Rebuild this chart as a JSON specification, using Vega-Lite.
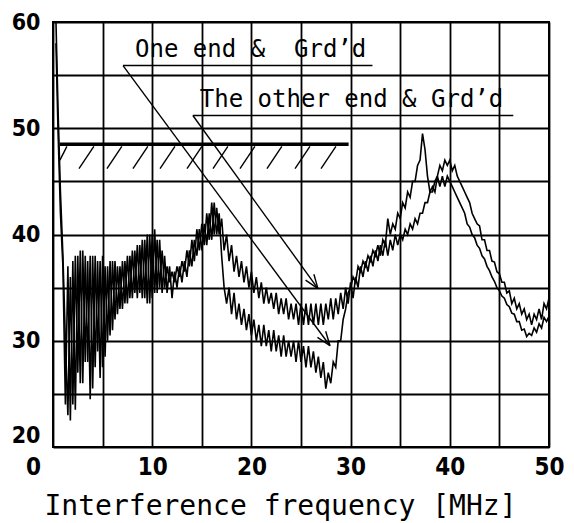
{
  "$schema": "https://vega.github.io/schema/vega-lite/v6.json",
  "width": 496,
  "height": 425,
  "autosize": "none",
  "padding": {"left": 53, "top": 22, "right": 25, "bottom": 76},
  "background": "white",
  "config": {"view": {"stroke": "black", "strokeWidth": 2}},
  "datasets": {
    "traces": [
      {"s":"A","x":0.3,"y":60},{"s":"A","x":0.5,"y":52},{"s":"A","x":0.75,"y":44},{"s":"A","x":1.0,"y":38},{"s":"A","x":1.25,"y":30},{"s":"A","x":1.5,"y":23},{"s":"A","x":1.75,"y":36},{"s":"A","x":2.0,"y":24},{"s":"A","x":2.25,"y":38},{"s":"A","x":2.5,"y":27},{"s":"A","x":2.75,"y":38.5},{"s":"A","x":3.0,"y":26},{"s":"A","x":3.25,"y":38},{"s":"A","x":3.5,"y":28},{"s":"A","x":3.75,"y":38},{"s":"A","x":4.0,"y":25.5},{"s":"A","x":4.25,"y":38},{"s":"A","x":4.5,"y":29},{"s":"A","x":4.75,"y":37.5},{"s":"A","x":5.0,"y":27.5},{"s":"A","x":5.25,"y":37},{"s":"A","x":5.5,"y":30},{"s":"A","x":5.75,"y":37.5},{"s":"A","x":6.0,"y":31},{"s":"A","x":6.25,"y":37.5},{"s":"A","x":6.5,"y":32.5},{"s":"A","x":6.75,"y":37},{"s":"A","x":7.0,"y":33},{"s":"A","x":7.25,"y":37.5},{"s":"A","x":7.5,"y":33.5},{"s":"A","x":7.75,"y":38},{"s":"A","x":8.0,"y":34},{"s":"A","x":8.25,"y":38.5},{"s":"A","x":8.5,"y":34},{"s":"A","x":8.75,"y":39},{"s":"A","x":9.0,"y":34},{"s":"A","x":9.25,"y":39.5},{"s":"A","x":9.5,"y":33.5},{"s":"A","x":9.75,"y":40},{"s":"A","x":10.0,"y":34},{"s":"A","x":10.25,"y":40.5},{"s":"A","x":10.5,"y":34.5},{"s":"A","x":10.75,"y":39.5},{"s":"A","x":11.0,"y":34.5},{"s":"A","x":11.25,"y":38},{"s":"A","x":11.5,"y":34.5},{"s":"A","x":11.75,"y":37},{"s":"A","x":12.0,"y":34},{"s":"A","x":12.25,"y":36.5},{"s":"A","x":12.5,"y":35},{"s":"A","x":12.75,"y":37},{"s":"A","x":13.0,"y":35.5},{"s":"A","x":13.25,"y":37.5},{"s":"A","x":13.5,"y":36},{"s":"A","x":13.75,"y":38.5},{"s":"A","x":14.0,"y":37},{"s":"A","x":14.25,"y":39.5},{"s":"A","x":14.5,"y":38},{"s":"A","x":14.75,"y":40.5},{"s":"A","x":15.0,"y":38.5},{"s":"A","x":15.25,"y":41},{"s":"A","x":15.5,"y":39},{"s":"A","x":15.75,"y":42},{"s":"A","x":16.0,"y":39.5},{"s":"A","x":16.25,"y":43},{"s":"A","x":16.5,"y":40},{"s":"A","x":16.75,"y":42},{"s":"A","x":17.0,"y":38},{"s":"A","x":17.25,"y":35},{"s":"A","x":17.5,"y":33.5},{"s":"A","x":17.75,"y":35},{"s":"A","x":18.0,"y":32.5},{"s":"A","x":18.25,"y":34.5},{"s":"A","x":18.5,"y":32},{"s":"A","x":18.75,"y":33.5},{"s":"A","x":19.0,"y":31.5},{"s":"A","x":19.25,"y":33},{"s":"A","x":19.5,"y":31},{"s":"A","x":19.75,"y":32.5},{"s":"A","x":20.0,"y":30.5},{"s":"A","x":20.25,"y":32},{"s":"A","x":20.5,"y":30},{"s":"A","x":20.75,"y":31.5},{"s":"A","x":21.0,"y":29.5},{"s":"A","x":21.25,"y":31.5},{"s":"A","x":21.5,"y":29.5},{"s":"A","x":21.75,"y":31},{"s":"A","x":22.0,"y":29},{"s":"A","x":22.25,"y":31},{"s":"A","x":22.5,"y":29},{"s":"A","x":22.75,"y":30.5},{"s":"A","x":23.0,"y":28.5},{"s":"A","x":23.25,"y":30.5},{"s":"A","x":23.5,"y":28.5},{"s":"A","x":23.75,"y":30},{"s":"A","x":24.0,"y":28.5},{"s":"A","x":24.25,"y":30},{"s":"A","x":24.5,"y":28},{"s":"A","x":24.75,"y":30},{"s":"A","x":25.0,"y":28},{"s":"A","x":25.25,"y":29.5},{"s":"A","x":25.5,"y":27.5},{"s":"A","x":25.75,"y":29.5},{"s":"A","x":26.0,"y":27.5},{"s":"A","x":26.25,"y":29},{"s":"A","x":26.5,"y":27},{"s":"A","x":26.75,"y":28.5},{"s":"A","x":27.0,"y":26.5},{"s":"A","x":27.25,"y":28},{"s":"A","x":27.5,"y":25.5},{"s":"A","x":27.75,"y":27},{"s":"A","x":28.0,"y":26},{"s":"A","x":28.25,"y":28},{"s":"A","x":28.5,"y":27.5},{"s":"A","x":28.75,"y":30},{"s":"A","x":29.0,"y":30},{"s":"A","x":29.25,"y":32},{"s":"A","x":29.5,"y":33},{"s":"A","x":29.75,"y":34.5},{"s":"A","x":30.0,"y":35},{"s":"A","x":30.25,"y":36},{"s":"A","x":30.5,"y":35.5},{"s":"A","x":30.75,"y":37},{"s":"A","x":31.0,"y":36.5},{"s":"A","x":31.25,"y":37.5},{"s":"A","x":31.5,"y":37},{"s":"A","x":31.75,"y":38},{"s":"A","x":32.0,"y":37.5},{"s":"A","x":32.25,"y":38.5},{"s":"A","x":32.5,"y":38},{"s":"A","x":32.75,"y":39},{"s":"A","x":33.0,"y":38},{"s":"A","x":33.25,"y":39.5},{"s":"A","x":33.5,"y":39},{"s":"A","x":33.75,"y":41.5},{"s":"A","x":34.0,"y":40},{"s":"A","x":34.25,"y":41},{"s":"A","x":34.5,"y":40.5},{"s":"A","x":34.75,"y":42},{"s":"A","x":35.0,"y":41.5},{"s":"A","x":35.25,"y":43},{"s":"A","x":35.5,"y":42.5},{"s":"A","x":35.75,"y":44},{"s":"A","x":36.0,"y":43.5},{"s":"A","x":36.25,"y":45},{"s":"A","x":36.5,"y":45},{"s":"A","x":36.75,"y":46.5},{"s":"A","x":37.0,"y":47},{"s":"A","x":37.25,"y":49.5},{"s":"A","x":37.5,"y":48},{"s":"A","x":37.75,"y":45.5},{"s":"A","x":38.0,"y":44},{"s":"A","x":38.25,"y":44.5},{"s":"A","x":38.5,"y":44},{"s":"A","x":38.75,"y":45.5},{"s":"A","x":39.0,"y":44.5},{"s":"A","x":39.25,"y":45.5},{"s":"A","x":39.5,"y":44.5},{"s":"A","x":39.75,"y":45.5},{"s":"A","x":40.0,"y":45},{"s":"A","x":40.25,"y":44.5},{"s":"A","x":40.5,"y":44},{"s":"A","x":40.75,"y":43.5},{"s":"A","x":41.0,"y":43},{"s":"A","x":41.25,"y":42.5},{"s":"A","x":41.5,"y":42},{"s":"A","x":41.75,"y":41},{"s":"A","x":42.0,"y":40.7},{"s":"A","x":42.25,"y":40},{"s":"A","x":42.5,"y":39.7},{"s":"A","x":42.75,"y":39},{"s":"A","x":43.0,"y":38.7},{"s":"A","x":43.25,"y":38},{"s":"A","x":43.5,"y":37.7},{"s":"A","x":43.75,"y":37},{"s":"A","x":44.0,"y":36.6},{"s":"A","x":44.25,"y":36},{"s":"A","x":44.5,"y":35.6},{"s":"A","x":44.75,"y":35},{"s":"A","x":45.0,"y":34.7},{"s":"A","x":45.25,"y":34.2},{"s":"A","x":45.5,"y":34},{"s":"A","x":45.75,"y":33.4},{"s":"A","x":46.0,"y":33.2},{"s":"A","x":46.25,"y":32.6},{"s":"A","x":46.5,"y":32.5},{"s":"A","x":46.75,"y":31.8},{"s":"A","x":47.0,"y":31.8},{"s":"A","x":47.25,"y":31},{"s":"A","x":47.5,"y":31.1},{"s":"A","x":47.75,"y":30.4},{"s":"A","x":48.0,"y":30.7},{"s":"A","x":48.25,"y":30.5},{"s":"A","x":48.5,"y":31.2},{"s":"A","x":48.75,"y":30.8},{"s":"A","x":49.0,"y":31.6},{"s":"A","x":49.25,"y":31.2},{"s":"A","x":49.5,"y":32.2},{"s":"A","x":49.75,"y":31.8},{"s":"A","x":50.0,"y":32.3},
      {"s":"B","x":0.3,"y":58},{"s":"B","x":0.5,"y":50},{"s":"B","x":0.75,"y":42},{"s":"B","x":1.0,"y":37},{"s":"B","x":1.25,"y":24},{"s":"B","x":1.5,"y":37},{"s":"B","x":1.75,"y":22.5},{"s":"B","x":2.0,"y":37.5},{"s":"B","x":2.25,"y":23.5},{"s":"B","x":2.5,"y":38},{"s":"B","x":2.75,"y":26},{"s":"B","x":3.0,"y":38.5},{"s":"B","x":3.25,"y":28},{"s":"B","x":3.5,"y":37.5},{"s":"B","x":3.75,"y":24.5},{"s":"B","x":4.0,"y":38},{"s":"B","x":4.25,"y":27.5},{"s":"B","x":4.5,"y":37.5},{"s":"B","x":4.75,"y":26.5},{"s":"B","x":5.0,"y":38},{"s":"B","x":5.25,"y":28.5},{"s":"B","x":5.5,"y":37},{"s":"B","x":5.75,"y":30.5},{"s":"B","x":6.0,"y":37.5},{"s":"B","x":6.25,"y":32},{"s":"B","x":6.5,"y":37},{"s":"B","x":6.75,"y":33},{"s":"B","x":7.0,"y":37.5},{"s":"B","x":7.25,"y":33.5},{"s":"B","x":7.5,"y":38},{"s":"B","x":7.75,"y":34},{"s":"B","x":8.0,"y":38.5},{"s":"B","x":8.25,"y":34.5},{"s":"B","x":8.5,"y":39},{"s":"B","x":8.75,"y":34.5},{"s":"B","x":9.0,"y":39.5},{"s":"B","x":9.25,"y":34},{"s":"B","x":9.5,"y":40},{"s":"B","x":9.75,"y":33.5},{"s":"B","x":10.0,"y":40},{"s":"B","x":10.25,"y":34.5},{"s":"B","x":10.5,"y":39.5},{"s":"B","x":10.75,"y":35},{"s":"B","x":11.0,"y":38.5},{"s":"B","x":11.25,"y":35},{"s":"B","x":11.5,"y":37},{"s":"B","x":11.75,"y":35.5},{"s":"B","x":12.0,"y":36.5},{"s":"B","x":12.25,"y":35.5},{"s":"B","x":12.5,"y":37},{"s":"B","x":12.75,"y":36},{"s":"B","x":13.0,"y":37.5},{"s":"B","x":13.25,"y":36.5},{"s":"B","x":13.5,"y":38.5},{"s":"B","x":13.75,"y":37},{"s":"B","x":14.0,"y":39.5},{"s":"B","x":14.25,"y":37.5},{"s":"B","x":14.5,"y":40.5},{"s":"B","x":14.75,"y":38.5},{"s":"B","x":15.0,"y":41},{"s":"B","x":15.25,"y":39},{"s":"B","x":15.5,"y":42},{"s":"B","x":15.75,"y":39.5},{"s":"B","x":16.0,"y":43},{"s":"B","x":16.25,"y":40},{"s":"B","x":16.5,"y":42.5},{"s":"B","x":16.75,"y":40},{"s":"B","x":17.0,"y":41.5},{"s":"B","x":17.25,"y":38.5},{"s":"B","x":17.5,"y":40},{"s":"B","x":17.75,"y":37.5},{"s":"B","x":18.0,"y":39},{"s":"B","x":18.25,"y":36.5},{"s":"B","x":18.5,"y":38},{"s":"B","x":18.75,"y":36},{"s":"B","x":19.0,"y":37.5},{"s":"B","x":19.25,"y":35.5},{"s":"B","x":19.5,"y":37},{"s":"B","x":19.75,"y":35},{"s":"B","x":20.0,"y":36.5},{"s":"B","x":20.25,"y":34.5},{"s":"B","x":20.5,"y":36},{"s":"B","x":20.75,"y":34},{"s":"B","x":21.0,"y":35.5},{"s":"B","x":21.25,"y":33.5},{"s":"B","x":21.5,"y":35},{"s":"B","x":21.75,"y":33.5},{"s":"B","x":22.0,"y":34.5},{"s":"B","x":22.25,"y":33},{"s":"B","x":22.5,"y":34.5},{"s":"B","x":22.75,"y":32.5},{"s":"B","x":23.0,"y":34},{"s":"B","x":23.25,"y":32.5},{"s":"B","x":23.5,"y":34},{"s":"B","x":23.75,"y":32},{"s":"B","x":24.0,"y":33.5},{"s":"B","x":24.25,"y":32},{"s":"B","x":24.5,"y":33.5},{"s":"B","x":24.75,"y":31.5},{"s":"B","x":25.0,"y":33.5},{"s":"B","x":25.25,"y":31.5},{"s":"B","x":25.5,"y":33.5},{"s":"B","x":25.75,"y":31.5},{"s":"B","x":26.0,"y":33.5},{"s":"B","x":26.25,"y":31.5},{"s":"B","x":26.5,"y":33.5},{"s":"B","x":26.75,"y":31.5},{"s":"B","x":27.0,"y":33.5},{"s":"B","x":27.25,"y":31.5},{"s":"B","x":27.5,"y":33.5},{"s":"B","x":27.75,"y":32},{"s":"B","x":28.0,"y":34},{"s":"B","x":28.25,"y":32},{"s":"B","x":28.5,"y":34},{"s":"B","x":28.75,"y":32.5},{"s":"B","x":29.0,"y":34.5},{"s":"B","x":29.25,"y":33},{"s":"B","x":29.5,"y":35},{"s":"B","x":29.75,"y":33.5},{"s":"B","x":30.0,"y":35.5},{"s":"B","x":30.25,"y":34},{"s":"B","x":30.5,"y":36},{"s":"B","x":30.75,"y":35},{"s":"B","x":31.0,"y":37},{"s":"B","x":31.25,"y":36},{"s":"B","x":31.5,"y":37.5},{"s":"B","x":31.75,"y":36.5},{"s":"B","x":32.0,"y":38},{"s":"B","x":32.25,"y":37},{"s":"B","x":32.5,"y":38.5},{"s":"B","x":32.75,"y":37.5},{"s":"B","x":33.0,"y":39},{"s":"B","x":33.25,"y":38},{"s":"B","x":33.5,"y":39.5},{"s":"B","x":33.75,"y":38},{"s":"B","x":34.0,"y":39.5},{"s":"B","x":34.25,"y":38.5},{"s":"B","x":34.5,"y":40},{"s":"B","x":34.75,"y":39},{"s":"B","x":35.0,"y":40},{"s":"B","x":35.25,"y":39.5},{"s":"B","x":35.5,"y":40.5},{"s":"B","x":35.75,"y":40},{"s":"B","x":36.0,"y":41},{"s":"B","x":36.25,"y":40.5},{"s":"B","x":36.5,"y":41.5},{"s":"B","x":36.75,"y":41},{"s":"B","x":37.0,"y":42},{"s":"B","x":37.25,"y":42},{"s":"B","x":37.5,"y":43},{"s":"B","x":37.75,"y":43},{"s":"B","x":38.0,"y":44},{"s":"B","x":38.25,"y":44},{"s":"B","x":38.5,"y":45},{"s":"B","x":38.75,"y":45.5},{"s":"B","x":39.0,"y":46.5},{"s":"B","x":39.25,"y":46},{"s":"B","x":39.5,"y":47},{"s":"B","x":39.75,"y":46.5},{"s":"B","x":40.0,"y":47},{"s":"B","x":40.25,"y":46},{"s":"B","x":40.5,"y":46.5},{"s":"B","x":40.75,"y":45.5},{"s":"B","x":41.0,"y":45},{"s":"B","x":41.25,"y":44.5},{"s":"B","x":41.5,"y":44},{"s":"B","x":41.75,"y":43.5},{"s":"B","x":42.0,"y":43},{"s":"B","x":42.25,"y":42},{"s":"B","x":42.5,"y":41.5},{"s":"B","x":42.75,"y":41},{"s":"B","x":43.0,"y":40.8},{"s":"B","x":43.25,"y":39.5},{"s":"B","x":43.5,"y":39.5},{"s":"B","x":43.75,"y":38.5},{"s":"B","x":44.0,"y":38.5},{"s":"B","x":44.25,"y":37.5},{"s":"B","x":44.5,"y":37.4},{"s":"B","x":44.75,"y":36.5},{"s":"B","x":45.0,"y":36.3},{"s":"B","x":45.25,"y":35.5},{"s":"B","x":45.5,"y":35.5},{"s":"B","x":45.75,"y":34.5},{"s":"B","x":46.0,"y":34.7},{"s":"B","x":46.25,"y":33.5},{"s":"B","x":46.5,"y":34},{"s":"B","x":46.75,"y":33},{"s":"B","x":47.0,"y":33.5},{"s":"B","x":47.25,"y":32.5},{"s":"B","x":47.5,"y":33},{"s":"B","x":47.75,"y":32},{"s":"B","x":48.0,"y":32.5},{"s":"B","x":48.25,"y":31.5},{"s":"B","x":48.5,"y":32.5},{"s":"B","x":48.75,"y":32},{"s":"B","x":49.0,"y":33},{"s":"B","x":49.25,"y":32},{"s":"B","x":49.5,"y":33.5},{"s":"B","x":49.75,"y":33},{"s":"B","x":50.0,"y":34}
    ],
    "segs": [
      {"x":7.06,"y":55.9,"x2":32.2,"y2":55.9},
      {"x":7.06,"y":55.9,"x2":27.92,"y2":29.53},
      {"x":26.66,"y":30.31,"x2":27.92,"y2":29.53},
      {"x":27.49,"y":30.89,"x2":27.92,"y2":29.53},
      {"x":14.1,"y":51.2,"x2":46.4,"y2":51.2},
      {"x":14.1,"y":51.2,"x2":26.71,"y2":34.91},
      {"x":25.46,"y":35.7,"x2":26.71,"y2":34.91},
      {"x":26.3,"y":36.26,"x2":26.71,"y2":34.91},
      {"x":0.7,"y":47.0,"x2":1.4,"y2":48.3},
      {"x":2.62,"y":46.2,"x2":4.12,"y2":48.3},
      {"x":5.44,"y":46.2,"x2":6.94,"y2":48.3},
      {"x":8.06,"y":46.2,"x2":9.56,"y2":48.3},
      {"x":10.79,"y":46.2,"x2":12.29,"y2":48.3},
      {"x":13.51,"y":46.2,"x2":15.01,"y2":48.3},
      {"x":16.13,"y":46.2,"x2":17.63,"y2":48.3},
      {"x":18.85,"y":46.2,"x2":20.35,"y2":48.3},
      {"x":21.57,"y":46.2,"x2":23.07,"y2":48.3},
      {"x":24.4,"y":46.2,"x2":25.9,"y2":48.3},
      {"x":27.02,"y":46.2,"x2":28.52,"y2":48.3}
    ],
    "thick": [
      {"x":0.7,"y":48.5,"x2":29.8,"y2":48.5}
    ],
    "labels": [
      {"x":8.27,"y":56.7,"t":"One end &\u00a0 Grd’d"},
      {"x":14.8,"y":51.98,"t":"The other end & Grd’d"}
    ]
  },
  "encoding": {
    "x": {
      "field": "x", "type": "quantitative",
      "scale": {"domain": [0, 50], "nice": false, "zero": false},
      "axis": {
        "values": [0,5,10,15,20,25,30,35,40,45,50],
        "labelExpr": "datum.value % 10 === 0 ? datum.label : ''",
        "grid": true, "gridColor": "black", "gridWidth": 1.8, "gridOpacity": 1,
        "ticks": false, "domain": false,
        "labelFont": "DejaVu Sans Condensed, Liberation Sans Narrow, DejaVu Sans", "labelFontWeight": "bold", "labelFontSize": 24, "labelColor": "black",
        "labelPadding": 8, "labelFlush": false, "labelOverlap": false,
        "labelOffset": {"condition": {"test": "datum.value === 0", "value": -20}, "value": 0},
        "title": "Interference frequency [MHz]",
        "titleFont": "DejaVu Sans Mono", "titleFontWeight": "normal", "titleFontSize": 28, "titleColor": "black",
        "titleX": 227, "titleY": 67, "titleBaseline": "alphabetic", "titleAlign": "center", "titleAnchor": "middle"
      }
    },
    "y": {
      "field": "y", "type": "quantitative",
      "scale": {"domain": [20, 60], "nice": false, "zero": false},
      "axis": {
        "values": [20,25,30,35,40,45,50,55,60],
        "labelExpr": "datum.value % 10 === 0 ? datum.label : ''",
        "grid": true, "gridColor": "black", "gridWidth": 1.8, "gridOpacity": 1,
        "ticks": false, "domain": false,
        "labelFont": "DejaVu Sans Condensed, Liberation Sans Narrow, DejaVu Sans", "labelFontWeight": "bold", "labelFontSize": 23, "labelColor": "black",
        "labelPadding": 13, "labelOverlap": false, "labelFlush": false,
        "labelOffset": {"condition": {"test": "datum.value === 20", "value": -12}, "value": 0},
        "title": null
      }
    }
  },
  "layer": [
    {
      "data": {"name": "traces"},
      "mark": {"type": "line", "color": "black", "strokeWidth": 1.6, "clip": true},
      "encoding": {"detail": {"field": "s", "type": "nominal"}}
    },
    {
      "data": {"name": "segs"},
      "mark": {"type": "rule", "color": "black", "strokeWidth": 1.4},
      "encoding": {"x2": {"field": "x2"}, "y2": {"field": "y2"}}
    },
    {
      "data": {"name": "thick"},
      "mark": {"type": "rule", "color": "black", "strokeWidth": 3.4},
      "encoding": {"x2": {"field": "x2"}, "y2": {"field": "y2"}}
    },
    {
      "data": {"name": "labels"},
      "mark": {"type": "text", "align": "left", "baseline": "alphabetic", "font": "DejaVu Sans Mono", "fontSize": 24, "color": "black"},
      "encoding": {"text": {"field": "t"}}
    }
  ]
}
